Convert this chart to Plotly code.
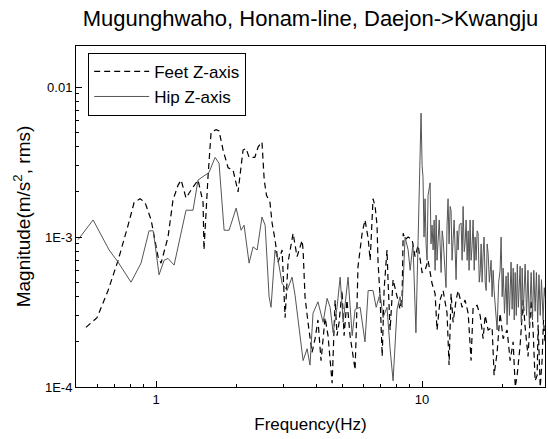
import plotly.graph_objects as go

# ---------------- data ----------------
hip_freq = [0.509, 0.580, 0.666, 0.720, 0.805, 0.878, 0.941, 0.975, 0.991, 1.026,
            1.072, 1.109, 1.169, 1.296, 1.377, 1.438, 1.582, 1.667, 1.725, 1.802,
            1.881, 2.0, 2.088, 2.142, 2.237, 2.315, 2.399, 2.501, 2.57, 2.66,
            2.705, 2.80, 2.875, 2.977, 3.107, 3.245, 3.33, 3.477, 3.57, 3.696,
            3.79, 3.89, 4.06, 4.245, 4.395, 4.51, 4.63, 4.79, 4.92, 5.05,
            5.27, 5.46, 5.60, 5.85, 6.10, 6.27, 6.54, 6.72, 6.95, 7.13,
            7.38, 7.58, 7.78, 8.05, 8.26, 8.41, 8.63, 8.86, 9.02, 9.24,
            9.48, 9.66, 9.91, 10.0, 10.08, 10.17, 10.26, 10.35, 10.44, 10.53,
            10.72, 10.8, 10.9, 11.0, 11.1, 11.19, 11.29, 11.38, 11.48, 11.6,
            11.79, 11.9, 12.0, 12.15, 12.3, 12.41, 12.52, 12.63, 12.75, 12.85,
            12.96, 13.08, 13.2, 13.42, 13.55, 13.66, 13.8, 14.02, 14.14, 14.26,
            14.4, 14.51, 14.64, 14.77, 14.9, 15.02, 15.15, 15.28, 15.41, 15.55,
            15.7, 15.82, 15.96, 16.1, 16.24, 16.4, 16.53, 16.67, 16.81, 16.96,
            17.1, 17.26, 17.41, 17.56, 17.71, 17.9, 18.17, 18.33, 18.5, 18.65,
            18.9, 19.14, 19.4, 19.64, 19.82, 20.0, 20.17, 20.4, 20.69, 20.87,
            21.05, 21.3, 21.6, 21.8, 22.0, 22.2, 22.38, 22.6, 22.8, 23.0,
            23.36, 23.6, 23.78, 24.0, 24.4, 24.7, 25.0, 25.3, 25.7, 26.0,
            26.3, 26.6, 26.9, 27.2, 27.5, 27.8, 28.1, 28.5, 28.8, 29.0]
hip_mag = [0.00096, 0.0013, 0.00082, 0.00068, 0.00050, 0.00067, 0.0011, 0.0011, 0.0009, 0.00056,
           0.0007, 0.00072, 0.00065, 0.00151, 0.00151, 0.0024, 0.0027, 0.0034, 0.0031, 0.00111,
           0.00111, 0.00156, 0.00111, 0.0012, 0.00067, 0.00086, 0.00082, 0.00136, 0.0012, 0.0004,
           0.00034, 0.00082, 0.0007, 0.00049, 0.00044, 0.00054, 0.00041, 0.00023, 0.00015, 0.00018,
           0.00014, 0.00031, 0.00037, 0.00027, 0.00039, 0.00034, 0.00023, 0.00034, 0.00054, 0.00027,
           0.00054, 0.00022, 0.00033, 0.00034, 0.00020, 0.00044, 0.00044, 0.00034, 0.00042, 0.00029,
           0.00034, 0.00018, 0.00011, 0.00033, 0.0004, 0.00034, 0.0010, 0.00082, 0.00060, 0.00091,
           0.00023, 0.00095, 0.0067, 0.0030, 0.0025, 0.0010, 0.0018, 0.0009, 0.0007, 0.0019,
           0.0023, 0.0009, 0.0012, 0.00082, 0.0013, 0.0006, 0.0014, 0.0007, 0.00096, 0.0013,
           0.00058, 0.0011, 0.00096, 0.0006, 0.00046, 0.0012, 0.0018, 0.0009, 0.0016, 0.0015,
           0.0007, 0.00096, 0.0013, 0.00052, 0.0011, 0.00082, 0.0012, 0.00124, 0.0007, 0.0016,
           0.0008, 0.00091, 0.0013, 0.0007, 0.0011, 0.0006, 0.0013, 0.0007, 0.00086, 0.0013,
           0.0006, 0.0010, 0.0007, 0.0011, 0.00106, 0.0005, 0.00058, 0.0009, 0.0005, 0.00078,
           0.0010, 0.0005, 0.00044, 0.0009, 0.00078, 0.0005, 0.0007, 0.0004, 0.0006, 0.00044,
           0.0003, 0.00024, 0.0005, 0.0006, 0.0010, 0.00040, 0.00062, 0.00031, 0.00055, 0.00026,
           0.00058, 0.00030, 0.00068, 0.00033, 0.00062, 0.00028, 0.00058, 0.00030, 0.00066, 0.00034,
           0.00064, 0.00027, 0.00062, 0.00031, 0.00066, 0.00030, 0.00060, 0.00026, 0.00058, 0.00028,
           0.00060, 0.00032, 0.00058, 0.00027, 0.00056, 0.00030, 0.00052, 0.00028, 0.00046, 0.0004]

feet_freq = [0.545, 0.600, 0.660, 0.720, 0.785, 0.827, 0.871, 0.909, 0.958, 1.017,
             1.044, 1.109, 1.158, 1.21, 1.242, 1.296, 1.354, 1.438, 1.502, 1.514,
             1.567, 1.61, 1.682, 1.725, 1.786, 1.865, 1.947, 2.033, 2.123, 2.179,
             2.237, 2.35, 2.42, 2.501, 2.55, 2.60, 2.68, 2.73, 2.80, 2.875,
             2.977, 3.0, 3.055, 3.134, 3.245, 3.274, 3.388, 3.54, 3.57, 3.63,
             3.724, 3.857, 3.96, 4.06, 4.17, 4.318, 4.43, 4.59, 4.71, 4.79,
             4.875, 5.0, 5.09, 5.22, 5.36, 5.46, 5.60, 5.70, 5.74, 5.95,
             6.10, 6.27, 6.38, 6.54, 6.66, 6.77, 6.83, 6.95, 7.08, 7.2,
             7.38, 7.45, 7.58, 7.78, 8.05, 8.26, 8.41, 8.49, 8.63, 8.86,
             9.17, 9.41, 9.66, 10.0, 10.26, 10.53, 10.9, 11.19, 11.38, 11.68,
             12.0, 12.41, 12.63, 12.85, 13.08, 13.42, 13.66, 14.14, 14.51, 14.9,
             15.28, 15.55, 16.1, 16.53, 16.96, 17.26, 17.71, 18.33, 18.65, 19.14,
             19.64, 20.17, 20.87, 21.43, 21.99, 22.4, 22.77, 23.36, 23.99, 24.4,
             25.02, 25.7, 26.14, 26.6, 27.07, 27.3, 27.8, 28.25, 28.6, 28.98]
feet_mag = [0.00025, 0.00029, 0.00044, 0.0007, 0.0012, 0.0017, 0.0018, 0.0017, 0.0013, 0.00074,
            0.00067, 0.0010, 0.00177, 0.00222, 0.0024, 0.00182, 0.00206, 0.0024, 0.0017, 0.00082,
            0.0025, 0.0050, 0.0052, 0.0051, 0.0038, 0.0029, 0.0028, 0.0020, 0.0038, 0.0039,
            0.0034, 0.0034, 0.0040, 0.0043, 0.0024, 0.0019, 0.0017, 0.00124, 0.00096, 0.00068,
            0.00082, 0.0006, 0.00029, 0.00068, 0.0010, 0.00106, 0.00074, 0.00095, 0.00082, 0.0004,
            0.00027, 0.00017, 0.00021, 0.00028, 0.00015, 0.00029, 0.00022, 0.000106, 0.00038, 0.00022,
            0.00027, 0.00044, 0.00022, 0.00038, 0.00022, 0.00018, 0.00013, 0.00038, 0.00063, 0.00106,
            0.0013, 0.00098, 0.00070, 0.0018, 0.0016, 0.0012, 0.00068, 0.00040, 0.00016, 0.00045,
            0.00082, 0.00050, 0.00024, 0.00052, 0.00040, 0.00033, 0.00040, 0.00106, 0.00096, 0.0010,
            0.00096, 0.00074, 0.00088, 0.00058, 0.0006, 0.00070, 0.00049, 0.00042, 0.00024, 0.00038,
            0.00044, 0.00031, 0.00014, 0.00042, 0.00027, 0.00038, 0.00044, 0.00034, 0.00038, 0.00031,
            0.00015, 0.00034, 0.00035, 0.00030, 0.00021, 0.0003, 0.00024, 0.00025, 0.00012, 0.00017,
            0.00031, 0.00021, 0.00024, 0.00015, 0.0002, 0.0001, 0.00012, 0.00019, 0.00038, 0.00025,
            0.00016, 0.00038, 0.00024, 0.00011, 0.00012, 0.00026, 0.0001, 0.00015, 0.00028, 0.0002]

x_tick_vals = [1, 10]
x_tick_text = ["1", "10"]
x_minor_vals = [0.5, 0.6, 0.7, 0.8, 0.9, 2, 3, 4, 5, 6, 7, 8, 9, 20]
y_tick_vals = [1e-4, 1e-3, 1e-2]
y_tick_text = ["1E-4", "1E-3", "0.01"]
y_minor_vals = [2e-4, 3e-4, 4e-4, 5e-4, 6e-4, 7e-4, 8e-4, 9e-4,
                2e-3, 3e-3, 4e-3, 5e-3, 6e-3, 7e-3, 8e-3, 9e-3]

FONT = "Liberation Sans, Arial, sans-serif"

fig = go.Figure()
fig.add_trace(go.Scatter(x=feet_freq, y=feet_mag, mode="lines", name="Feet Z-axis",
                         line=dict(color="black", width=1.2, dash="6px,4px")))
fig.add_trace(go.Scatter(x=hip_freq, y=hip_mag, mode="lines", name="Hip Z-axis",
                         line=dict(color="#555555", width=1)))

axis_common = dict(showline=True, linecolor="black", linewidth=1, mirror=True,
                   ticks="inside", ticklen=6, tickcolor="black", showgrid=False,
                   zeroline=False, tickfont=dict(family=FONT, size=13, color="black"))

fig.update_xaxes(type="log", range=[-0.301, 1.462], tickmode="array",
                 tickvals=x_tick_vals, ticktext=x_tick_text,
                 minor=dict(tickmode="array", tickvals=x_minor_vals, ticks="inside",
                            ticklen=3, tickcolor="black", showgrid=False),
                 title=dict(text="Frequency(Hz)", font=dict(family=FONT, size=17, color="black"),
                            standoff=12),
                 **axis_common)
fig.update_yaxes(type="log", range=[-4, -1.726], tickmode="array",
                 tickvals=y_tick_vals, ticktext=y_tick_text,
                 minor=dict(tickmode="array", tickvals=y_minor_vals, ticks="inside",
                            ticklen=3, tickcolor="black", showgrid=False),
                 title=dict(text="Magnitude(m/s<sup>2</sup>, rms)",
                            font=dict(family=FONT, size=19, color="black"), standoff=9),
                 **axis_common)

fig.update_layout(
    width=548, height=439,
    margin=dict(l=76, r=3, t=46, b=52),
    paper_bgcolor="white", plot_bgcolor="white",
    title=dict(text="Mugunghwaho, Honam-line, Daejon->Kwangju",
               font=dict(family=FONT, size=22, color="black"),
               x=0.5, xref="paper", xanchor="center",
               y=0.959, yref="container", yanchor="middle"),
    legend=dict(x=0.026, y=0.98, xanchor="left", yanchor="top",
                bgcolor="white", bordercolor="black", borderwidth=1,
                font=dict(family=FONT, size=17, color="black"),
                itemwidth=55, tracegroupgap=0),
    showlegend=True,
)

fig.write_html("out.html")
